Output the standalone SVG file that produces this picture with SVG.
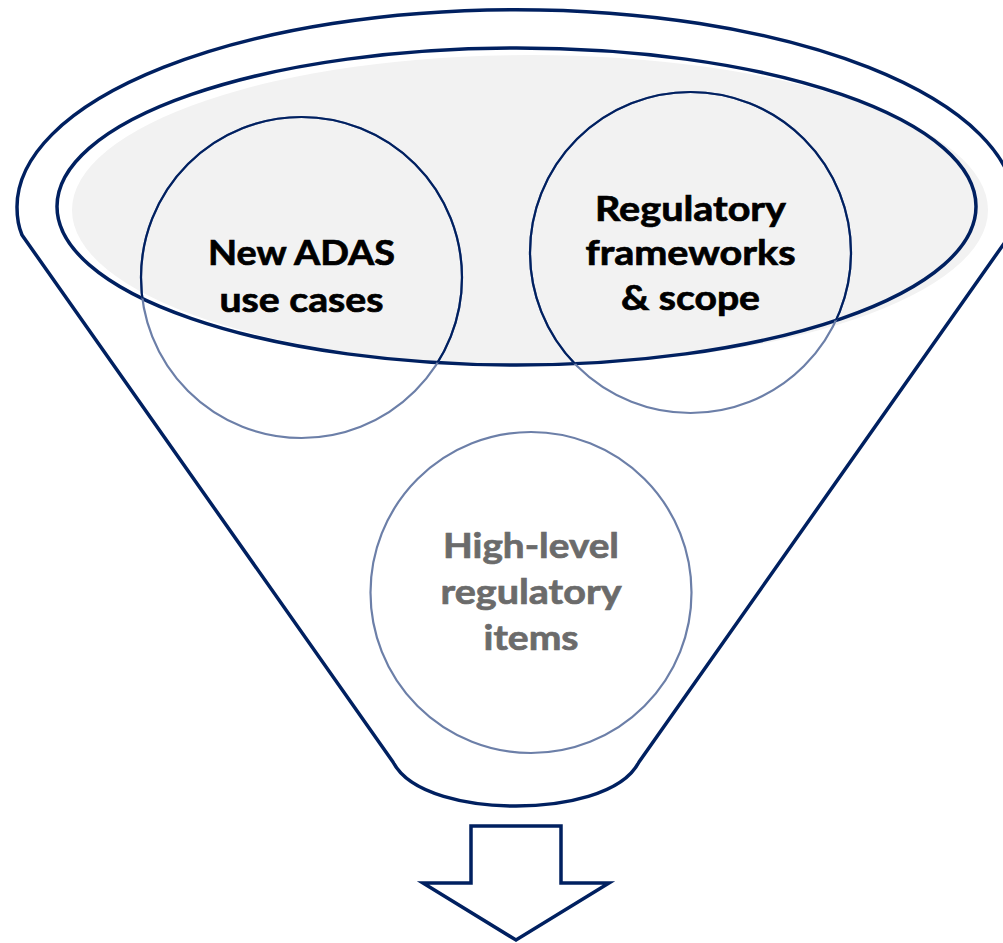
<svg xmlns="http://www.w3.org/2000/svg" width="1003" height="943" viewBox="0 0 1003 943">
<style>
.navy{fill:none;stroke:#002060;stroke-width:3.5;stroke-linejoin:round}
.cl{fill:none;stroke:#6c7fa8;stroke-width:2.2}
.cd{fill:none;stroke:#002060;stroke-width:2.2}
.t{font-family:Lato,"Liberation Sans",sans-serif;font-weight:bold;font-size:35px;text-anchor:middle;fill:#000;stroke:#000;stroke-width:0.7}
.g{fill:#6b6b6b;stroke:#6b6b6b}
</style>
<defs>
<clipPath id="inner"><ellipse cx="516.5" cy="206.5" rx="459.5" ry="158.5"/></clipPath>
</defs>
<g id="funnel">
<path class="navy" d="M22,235 L393,762 C410,795 470,806 516,806 C562,806 622,795 639,762 L1010,235 C1013,228 1015,218 1015,207 A498,197 0 0 0 17,207 C17,218 19,228 22,235 Z"/>
<ellipse cx="530" cy="210" rx="458" ry="155" fill="#f2f2f2"/>
<ellipse cx="516.5" cy="206.5" rx="459.5" ry="158.5" fill="none" stroke="#002060" stroke-width="3.5"/>
</g>
<g id="node-adas">
<circle class="cl" cx="301.5" cy="277.5" r="160.5"/>
<circle class="cd" cx="301.5" cy="277.5" r="160.5" clip-path="url(#inner)"/>
<text class="t" x="301.5" y="265" textLength="187" lengthAdjust="spacingAndGlyphs">New ADAS</text>
<text class="t" x="301.5" y="312" textLength="164" lengthAdjust="spacingAndGlyphs">use cases</text>
</g>
<g id="node-regulatory">
<circle class="cl" cx="690.5" cy="252.5" r="160.5"/>
<circle class="cd" cx="690.5" cy="252.5" r="160.5" clip-path="url(#inner)"/>
<text class="t" x="690.5" y="221" textLength="191" lengthAdjust="spacingAndGlyphs">Regulatory</text>
<text class="t" x="690.5" y="265" textLength="210" lengthAdjust="spacingAndGlyphs">frameworks</text>
<text class="t" x="690.5" y="310" textLength="139" lengthAdjust="spacingAndGlyphs">&amp; scope</text>
</g>
<g id="node-highlevel">
<circle class="cl" cx="531" cy="592.5" r="160.5"/>
<text class="t g" x="531" y="558" textLength="176" lengthAdjust="spacingAndGlyphs">High-level</text>
<text class="t g" x="531" y="604" textLength="181" lengthAdjust="spacingAndGlyphs">regulatory</text>
<text class="t g" x="531" y="650" textLength="95" lengthAdjust="spacingAndGlyphs">items</text>
</g>
<g id="connectors">
<path d="M471,826 L561,826 L561,883 L609,883 L516,940 L423,883 L471,883 Z" fill="#fff" stroke="#002060" stroke-width="3.5" stroke-linejoin="miter"/>
</g>
</svg>
